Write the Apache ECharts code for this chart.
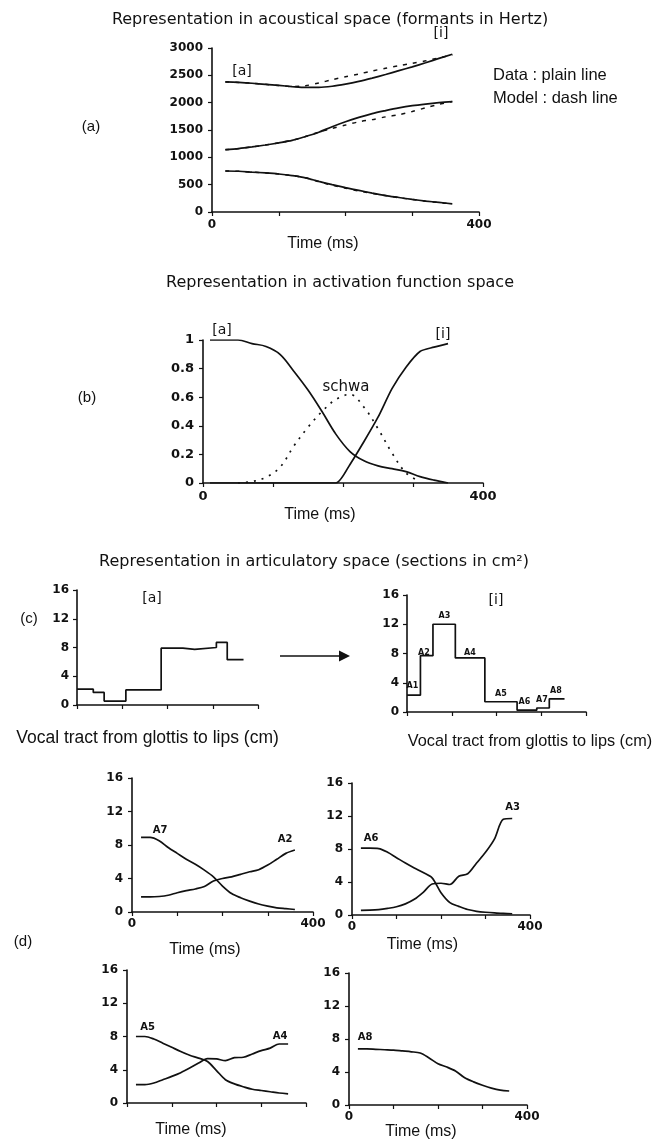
<!DOCTYPE html>
<html><head><meta charset="utf-8">
<script src="https://cdn.jsdelivr.net/npm/echarts/dist/echarts.min.js"></script>
<style>html,body{margin:0;padding:0;background:#fff}#c{width:662px;height:1140px}</style>
</head><body><div id="c"></div>
<script>
// ---------- DATA ----------
// (a) formants (Hz) vs time (ms)
const tA = [20,40,60,80,100,120,140,160,180,200,220,240,260,280,300,320,340,360];
const f3Data  = [2380,2370,2355,2335,2315,2295,2280,2280,2300,2340,2390,2450,2515,2585,2655,2730,2810,2885];
const f3Model = [2380,2370,2355,2335,2315,2295,2310,2360,2420,2475,2525,2580,2630,2675,2720,2765,2820,2870];
const f2Data  = [1140,1160,1190,1225,1265,1310,1380,1460,1560,1650,1730,1800,1855,1905,1945,1975,2000,2020];
const f2Model = [1140,1160,1190,1225,1265,1310,1380,1460,1530,1590,1650,1690,1740,1780,1840,1905,1970,2020];
const f1Data  = [750,745,730,715,695,665,625,560,500,445,395,345,300,265,230,200,175,150];
const f1Model = [750,745,730,715,695,665,625,555,490,435,385,340,300,262,228,198,172,150];

// (b) activation functions vs time (ms)
const tB = [10,30,50,70,90,110,130,150,170,190,210,230,250,270,290,310,330,350];
const actA     = [1,1,1,0.975,0.955,0.9,0.78,0.65,0.5,0.34,0.22,0.155,0.12,0.1,0.08,0.045,0.02,0];
const actI     = [0,0,0,0,0,0,0,0,0,0,0.13,0.29,0.46,0.66,0.81,0.92,0.95,0.975];
const actSchwa = [null,null,0,0.01,0.04,0.11,0.26,0.39,0.5,0.585,0.62,0.53,0.38,0.21,0.07,0.01,null,null];

// (c) area function (cm2) along vocal tract (cm): section start positions + values
const tractA_x = [0,1.8,3.0,5.4,9.3,11.7,13.0,15.4,16.6,18.4];
const tractA_v = [2.2,1.75,0.55,2.1,7.9,7.75,8.0,8.7,6.3];
const tractI_x = [0,1.5,2.9,5.4,8.7,12.3,14.5,15.9,17.6];
const tractI_v = [2.3,7.7,12,7.4,1.4,0.25,0.55,1.8];
const tractI_names = ['A1','A2','A3','A4','A5','A6','A7','A8'];

// (d) area trajectories (cm2) vs time (ms)
const tD = [20,40,60,80,100,120,140,160,180,200,220,240,260,280,300,320,340,360];
const A7 = [8.9,8.9,8.5,7.7,7.0,6.3,5.7,5.0,4.2,3.1,2.2,1.7,1.3,0.95,0.7,0.5,0.4,0.3];
const A2 = [1.8,1.8,1.85,2.0,2.3,2.55,2.75,3.05,3.7,4.0,4.2,4.5,4.8,5.05,5.6,6.3,7.0,7.4];
const A6 = [8.1,8.1,8.05,7.6,6.95,6.3,5.7,5.15,4.5,2.7,1.5,1.05,0.66,0.45,0.33,0.25,0.2,0.15];
const A3 = [0.55,0.58,0.65,0.8,1.0,1.35,1.9,2.75,3.75,3.85,3.7,4.7,5.0,6.3,7.6,9.2,11.6,11.7];
const A5 = [8.0,8.0,7.7,7.2,6.7,6.2,5.75,5.4,5.0,3.9,2.8,2.3,1.95,1.65,1.5,1.35,1.2,1.1];
const A4 = [2.2,2.2,2.4,2.8,3.2,3.65,4.2,4.8,5.35,5.3,5.1,5.45,5.5,5.9,6.3,6.6,7.1,7.1];
const A8 = [6.8,6.8,6.75,6.7,6.65,6.55,6.45,6.3,5.7,5.0,4.6,4.1,3.3,2.8,2.4,2.05,1.8,1.7];

// ---------- CHART ----------
const INK = '#111';
const TICKFONT = 'DejaVu Sans';
const chart = echarts.init(document.getElementById('c'), null, {renderer:'canvas'});

const grids = [
  {left:212, top:48,  width:267, height:164}, // a
  {left:203, top:340, width:280, height:143}, // b
  {left:77,  top:590, width:181, height:115}, // c left
  {left:407, top:595, width:179, height:117}, // c right
  {left:132, top:778, width:181, height:134}, // d1
  {left:352, top:783, width:178, height:132}, // d2
  {left:127, top:970, width:179, height:133}, // d3
  {left:349, top:973, width:178, height:132}  // d4
].map(g => Object.assign(g, {outerBoundsMode:'none', containLabel:false}));

const plain = v => String(v);
function axisBase(idx, min, max, interval, showLabels, fontSize, margin, fmt) {
  return {
    type:'value', gridIndex:idx, min, max, interval,
    axisLine:{show:true, onZero:false, lineStyle:{color:INK, width:1.6}},
    axisTick:{show:true, inside:false, length:4, lineStyle:{color:INK, width:1.2}},
    splitLine:{show:false},
    axisLabel:{show:showLabels, color:INK, fontFamily:TICKFONT, fontWeight:'bold', fontSize, margin,
      formatter: fmt || plain}
  };
}
const endsOnly = v => (v === 0 || v === 400) ? String(v) : '';

const xAxes = [
  axisBase(0, 0, 400, 100, true, 12, 7, endsOnly),
  axisBase(1, 0, 400, 100, true, 13, 7, endsOnly),
  axisBase(2, 0, 20, 5, false, 12, 6),
  axisBase(3, 0, 20, 5, false, 12, 6),
  axisBase(4, 0, 400, 100, true, 12, 6, endsOnly),
  axisBase(5, 0, 400, 100, true, 12, 6, endsOnly),
  axisBase(6, 0, 400, 100, false, 12, 6),
  axisBase(7, 0, 400, 100, true, 12, 6, endsOnly)
];
const yAxes = [
  axisBase(0, 0, 3000, 500, true, 12, 9),
  axisBase(1, 0, 1, 0.2, true, 13, 9),
  axisBase(2, 0, 16, 4, true, 12, 8),
  axisBase(3, 0, 16, 4, true, 12, 8),
  axisBase(4, 0, 16, 4, true, 12, 9),
  axisBase(5, 0, 16, 4, true, 12, 9),
  axisBase(6, 0, 16, 4, true, 12, 9),
  axisBase(7, 0, 16, 4, true, 12, 9)
];

function pairs(xs, ys) {
  const out = [];
  xs.forEach((x, i) => { if (ys[i] != null) out.push([x, ys[i]]); });
  return out;
}
function line(gi, xs, ys, opts) {
  opts = opts || {};
  return {
    type:'line', xAxisIndex:gi, yAxisIndex:gi, data:pairs(xs, ys),
    symbol:'none', showSymbol:false, silent:true, animation:false,
    smooth: opts.smooth != null ? opts.smooth : 0.3,
    lineStyle:{color:INK, width:opts.width || 1.7, type:opts.type || 'solid'},
    z: opts.z || 2
  };
}
function stepPoints(xs, vs) {
  const pts = vs.map((v, i) => [xs[i], v]);
  pts.push([xs[xs.length - 1], vs[vs.length - 1]]);
  return pts;
}
function stepLine(gi, xs, vs) {
  return {
    type:'line', xAxisIndex:gi, yAxisIndex:gi, data:stepPoints(xs, vs), step:'end',
    symbol:'none', showSymbol:false, silent:true, animation:false,
    lineStyle:{color:INK, width:1.7}
  };
}
const DASH = [4,6];
const DOT = [2,6];

const series = [
  // (a)
  line(0, tA, f3Model, {type:DASH, width:1.5, z:1}),
  line(0, tA, f2Model, {type:DASH, width:1.5, z:1}),
  line(0, tA, f1Model, {type:DASH, width:1.5, z:1}),
  line(0, tA, f3Data),
  line(0, tA, f2Data),
  line(0, tA, f1Data),
  // (b)
  line(1, tB, actA, {smooth:0.35}),
  line(1, tB, actI, {smooth:0.25}),
  line(1, tB, actSchwa, {smooth:0.35, type:DOT, width:1.7}),
  // (c)
  stepLine(2, tractA_x, tractA_v),
  stepLine(3, tractI_x, tractI_v),
  // (d)
  line(4, tD, A7), line(4, tD, A2),
  line(5, tD, A6), line(5, tD, A3),
  line(6, tD, A5), line(6, tD, A4),
  line(7, tD, A8)
];

function T(text, x, y, font, align) {
  return {type:'text', x, y, silent:true, z:100,
    style:{text, font, fill:INK, textAlign:align || 'center', textVerticalAlign:'middle'}};
}
const TITLE = "16px 'DejaVu Sans'";
const LAB = "16px 'Liberation Sans'";
const PANEL = "15px 'Liberation Sans'";
const BR = "14px 'DejaVu Sans'";
const AD = "bold 10px 'DejaVu Sans'";
const AC = "bold 8px 'DejaVu Sans'";
const cLabelPos = [[412.5,686],[424,653],[444.5,616],[470,653],[501,694],[524.5,702],[542,700],[556,691]];

const graphic = [
  // (a)
  T('Representation in acoustical space (formants in Hertz)', 330, 20, TITLE),
  T('Data : plain line', 493, 75, "16.5px 'Liberation Sans'", 'left'),
  T('Model : dash line', 493, 98, "16.5px 'Liberation Sans'", 'left'),
  T('(a)', 91, 127, PANEL),
  T('[a]', 242, 71, BR),
  T('[i]', 441, 33, BR),
  T('Time (ms)', 323, 244, LAB),
  // (b)
  T('Representation in activation function space', 340, 283, TITLE),
  T('(b)', 87, 398, PANEL),
  T('[a]', 222, 330, BR),
  T('[i]', 443, 334, BR),
  T('schwa', 346, 387, "15px 'DejaVu Sans'"),
  T('Time (ms)', 320, 515, LAB),
  // (c)
  T('Representation in articulatory space (sections in cm²)', 314, 562, TITLE),
  T('(c)', 29, 619, PANEL),
  T('[a]', 152, 598, BR),
  T('[i]', 496, 600, BR),
  T('Vocal tract from glottis to lips (cm)', 147.5, 738, "17.5px 'Liberation Sans'"),
  T('Vocal tract from glottis to lips (cm)', 530, 742, "16.3px 'Liberation Sans'"),
  {type:'line', silent:true, shape:{x1:280, y1:656, x2:341, y2:656}, style:{stroke:INK, lineWidth:1.6}},
  {type:'polygon', silent:true, shape:{points:[[350,656],[339,650.5],[339,661.5]]}, style:{fill:INK}},
  // (d)
  T('(d)', 23, 942, PANEL),
  T('A7', 160, 830, AD), T('A2', 285, 839, AD), T('Time (ms)', 205, 950, LAB),
  T('A6', 371, 838, AD), T('A3', 512.5, 807, AD), T('Time (ms)', 422.5, 945, LAB),
  T('A5', 147.5, 1027, AD), T('A4', 280, 1036, AD), T('Time (ms)', 191, 1130, LAB),
  T('A8', 365, 1037, AD), T('Time (ms)', 421, 1132, LAB)
];
tractI_names.forEach((n, i) => graphic.push(T(n, cLabelPos[i][0], cLabelPos[i][1], AC)));

chart.setOption({
  animation:false,
  backgroundColor:'#ffffff',
  grid:grids, xAxis:xAxes, yAxis:yAxes, series, graphic
});
</script></body></html>
